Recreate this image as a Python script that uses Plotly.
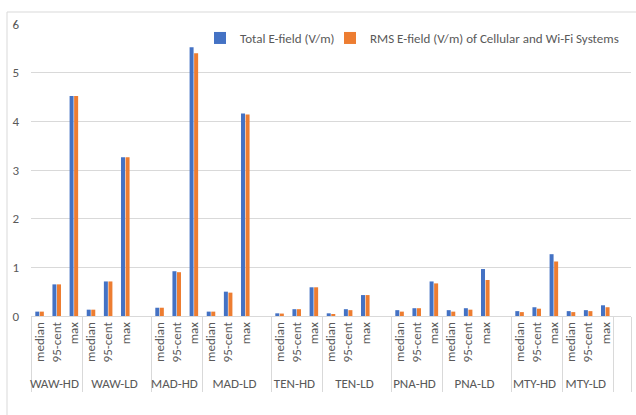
import plotly.graph_objects as go

sites = ["WAW-HD", "WAW-LD", "MAD-HD", "MAD-LD", "TEN-HD", "TEN-LD",
         "PNA-HD", "PNA-LD", "MTY-HD", "MTY-LD"]
stats = ["median", "95-cent", "max"]

total_efield = [
    [0.09, 0.65, 4.52],  # WAW-HD
    [0.13, 0.71, 3.26],  # WAW-LD
    [0.17, 0.92, 5.52],  # MAD-HD
    [0.09, 0.50, 4.16],  # MAD-LD
    [0.055, 0.14, 0.59], # TEN-HD
    [0.055, 0.14, 0.43], # TEN-LD
    [0.12, 0.16, 0.71],  # PNA-HD
    [0.12, 0.16, 0.965], # PNA-LD
    [0.10, 0.18, 1.27],  # MTY-HD
    [0.10, 0.12, 0.22],  # MTY-LD
]
rms_efield = [
    [0.09, 0.65, 4.52],
    [0.13, 0.71, 3.26],
    [0.17, 0.90, 5.40],
    [0.09, 0.48, 4.14],
    [0.05, 0.14, 0.59],
    [0.035, 0.12, 0.43],
    [0.09, 0.16, 0.67],
    [0.09, 0.13, 0.74],
    [0.08, 0.15, 1.12],
    [0.08, 0.10, 0.18],
]
series_names = ["Total E-field (V/m)", "RMS E-field (V/m) of Cellular and Wi-Fi Systems"]
colors = ["#4472C4", "#ED7D31"]

# Build multicategory x with a blank slot after every LD group (as in the sheet)
grp, sub, y1, y2 = [], [], [], []
for i, s in enumerate(sites):
    for j, st in enumerate(stats):
        grp.append(s); sub.append(st)
        y1.append(total_efield[i][j]); y2.append(rms_efield[i][j])
    if s.endswith("-LD") and s != "MTY-LD":
        grp.append(s); sub.append(" ")
        y1.append(None); y2.append(None)
grp.append(" "); sub.append(" ")
y1.append(None); y2.append(None)

FONT = "Carlito, Calibri, Roboto, Liberation Sans, sans-serif"

fig = go.Figure()
for k, (name, ys, c) in enumerate(zip(series_names, [y1, y2], colors)):
    fig.add_trace(go.Bar(x=[grp, sub], y=ys, name=name, marker_color=c,
                         marker_line_width=0,
                         legend="legend" if k == 0 else "legend2"))

leg_common = dict(orientation="h", y=0.952, xanchor="left", yanchor="middle",
                  bgcolor="rgba(0,0,0,0)", font=dict(size=13, color="#595959"),
                  itemwidth=30)
fig.update_layout(
    width=636, height=415,
    margin=dict(l=31, r=5, t=24, b=99),
    paper_bgcolor="white", plot_bgcolor="white",
    font=dict(family=FONT, size=13, color="#595959"),
    barmode="group", bargap=0.47, bargroupgap=0.12,
    showlegend=True,
    legend=dict(x=(200 - 31) / 600, **leg_common),
    legend2=dict(x=(330 - 31) / 600, **leg_common),
)
fig.update_yaxes(range=[0, 6], dtick=1, showgrid=True, gridcolor="#D9D9D9",
                 gridwidth=1, zeroline=False, showline=False, ticks="",
                 tickfont=dict(size=13, color="#595959"), ticklabelstandoff=11)
fig.update_xaxes(type="multicategory", showline=True, linecolor="#D9D9D9",
                 linewidth=1, ticks="", tickangle=-90, showdividers=True,
                 dividercolor="#D9D9D9", dividerwidth=1,
                 tickfont=dict(size=13, color="#595959"))

# outer chart-area border (cropped at right/bottom in the reference)
fig.add_shape(type="rect", xref="paper", yref="paper",
              x0=(7 - 31) / 600, x1=(700 - 31) / 600,
              y0=(316 - 480) / 292, y1=(316 - 12) / 292,
              line=dict(color="#D9D9D9", width=1), fillcolor="rgba(0,0,0,0)",
              layer="below")

fig.write_html("out.html", config={"displayModeBar": False},
               post_script="document.body.style.margin='0';")
